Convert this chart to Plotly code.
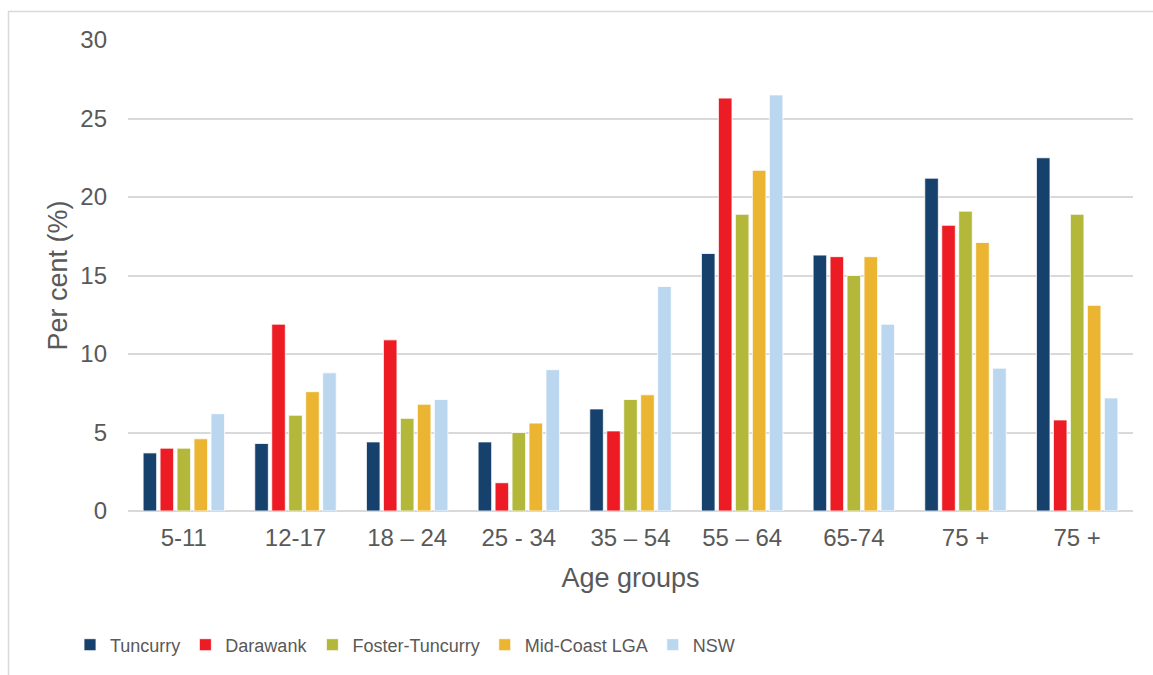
import plotly.graph_objects as go

# Age group labels (the last two groups are both labelled "75 +")
age_groups = ["5-11", "12-17", "18 \u2013 24", "25 - 34", "35 \u2013 54",
              "55 \u2013 64", "65-74", "75 +", "75 +"]

# Share of population in each age group (%)
tuncurry = [3.7, 4.3, 4.4, 4.4, 6.5, 16.4, 16.3, 21.2, 22.5]
darawank = [4.0, 11.9, 10.9, 1.8, 5.1, 26.3, 16.2, 18.2, 5.8]
foster_tuncurry = [4.0, 6.1, 5.9, 5.0, 7.1, 18.9, 15.0, 19.1, 18.9]
mid_coast_lga = [4.6, 7.6, 6.8, 5.6, 7.4, 21.7, 16.2, 17.1, 13.1]
nsw = [6.2, 8.8, 7.1, 9.0, 14.3, 26.5, 11.9, 9.1, 7.2]

series = [
    ("Tuncurry", tuncurry, "#17416D"),
    ("Darawank", darawank, "#ED1C24"),
    ("Foster-Tuncurry", foster_tuncurry, "#B3B83B"),
    ("Mid-Coast LGA", mid_coast_lga, "#EBB531"),
    ("NSW", nsw, "#BBD7EF"),
]

positions = list(range(len(age_groups)))

FONT = "Arial, Liberation Sans, sans-serif"
TEXT = "#595959"
GRID = "#D9D9D9"

fig = go.Figure()
for name, values, color in series:
    fig.add_trace(go.Bar(
        x=positions, y=values, name=name,
        marker=dict(color=color, line=dict(color="white", width=0.8)),
    ))

W, H = 1153, 675
ml, mr, mt, mb = 128, 20, 40, 164
pw = W - ml - mr
ph = H - mt - mb

fig.update_layout(
    width=W, height=H,
    margin=dict(l=ml, r=mr, t=mt, b=mb, pad=0),
    paper_bgcolor="white", plot_bgcolor="white",
    barmode="group", bargap=0.24, bargroupgap=0.2,
    font=dict(family=FONT, color=TEXT),
    xaxis=dict(
        tickmode="array", tickvals=positions, ticktext=age_groups,
        range=[-0.5, len(age_groups) - 0.5],
        showgrid=False, zeroline=False, showline=False, ticks="",
        tickfont=dict(size=24, color=TEXT), ticklabelstandoff=10,
        title=dict(text="Age groups", font=dict(size=27, color=TEXT), standoff=18),
    ),
    yaxis=dict(
        range=[0, 30], tickvals=[0, 5, 10, 15, 20, 25, 30],
        showgrid=True, gridcolor=GRID, gridwidth=1.5,
        zeroline=True, zerolinecolor=GRID, zerolinewidth=2,
        showline=False, ticks="",
        tickfont=dict(size=24, color=TEXT), ticklabelstandoff=20,
        title=dict(text="Per cent (%)", font=dict(size=27, color=TEXT), standoff=4),
    ),
    legend=dict(
        orientation="h", x=(405 - ml) / pw, xanchor="center",
        y=(511 - 645) / ph, yanchor="middle",
        font=dict(size=18, color=TEXT), itemwidth=30,
        traceorder="normal", bgcolor="rgba(0,0,0,0)",
    ),
    shapes=[dict(
        type="rect", xref="paper", yref="paper",
        x0=(8.5 - ml) / pw, x1=(W + 20 - ml) / pw,
        y0=(ph + mt - (H + 20)) / ph, y1=(ph + mt - 11.5) / ph,
        line=dict(color=GRID, width=1.5), fillcolor="rgba(0,0,0,0)",
        layer="below",
    )],
)

fig.write_html("out.html")
